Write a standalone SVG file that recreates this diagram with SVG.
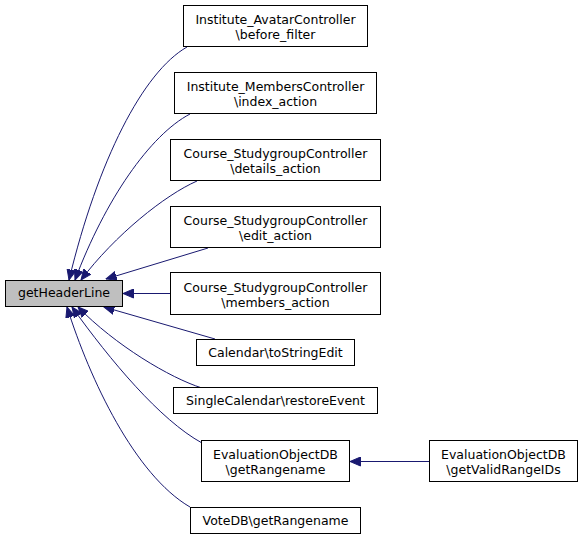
<svg xmlns="http://www.w3.org/2000/svg" width="584" height="539" viewBox="0 0 584 539">
<style>
.n rect{fill:#fff;stroke:#000;stroke-width:1}
.n.cur rect{fill:#bfbfbf}
.n text{font-family:"DejaVu Sans","Liberation Sans",sans-serif;font-size:12.5px;fill:#000;text-anchor:middle}
.e path{fill:none;stroke:#191970;stroke-width:1;marker-end:url(#ah)}
</style>
<defs>
<marker id="ah" markerUnits="userSpaceOnUse" viewBox="0 -5 11 10" refX="10.5" refY="0" markerWidth="11" markerHeight="10" orient="auto">
<path d="M0,-4.5 L10.5,0 L0,4.5 z" fill="#191970" stroke="#191970" stroke-width="1"/>
</marker>
</defs>
<rect width="584" height="539" fill="#fff"/>
<g id="edges" class="e">
<path d="M187,47 C143,72 98,160 69,280"/>
<path d="M190,114 C150,135 105,200 75,280"/>
<path d="M197,181 C165,195 115,235 81,280"/>
<path d="M208,248 L106,279"/>
<path d="M171,293.5 L123,293.5"/>
<path d="M215,339 L104,307"/>
<path d="M202,388 C170,378 115,345 78,307"/>
<path d="M202,443 C160,420 110,360 72,307"/>
<path d="M190,507 C135,475 90,380 67,307"/>
<path d="M429,461.5 L350,461.5"/>
</g>
<g id="getHeaderLine" class="n cur"><rect x="5.5" y="280.5" width="117" height="26"/><text x="64" y="297">getHeaderLine</text></g>
<g id="avatar" class="n"><rect x="183.5" y="5.5" width="184" height="41"/><text x="275.5" y="24">Institute_AvatarController</text><text x="275.5" y="39">\before_filter</text></g>
<g id="members" class="n"><rect x="174.5" y="72.5" width="202" height="41"/><text x="275.5" y="91">Institute_MembersController</text><text x="275.5" y="106">\index_action</text></g>
<g id="details" class="n"><rect x="170.5" y="139.5" width="210" height="41"/><text x="275.5" y="158">Course_StudygroupController</text><text x="275.5" y="173">\details_action</text></g>
<g id="edit" class="n"><rect x="170.5" y="206.5" width="210" height="41"/><text x="275.5" y="225">Course_StudygroupController</text><text x="275.5" y="240">\edit_action</text></g>
<g id="membersaction" class="n"><rect x="170.5" y="272.5" width="210" height="42"/><text x="275.5" y="292">Course_StudygroupController</text><text x="275.5" y="307">\members_action</text></g>
<g id="calendar" class="n"><rect x="196.5" y="339.5" width="158" height="26"/><text x="275.5" y="357">Calendar\toStringEdit</text></g>
<g id="singlecal" class="n"><rect x="173.5" y="387.5" width="204" height="26"/><text x="275.5" y="405">SingleCalendar\restoreEvent</text></g>
<g id="evalrange" class="n"><rect x="201.5" y="440.5" width="148" height="41"/><text x="275.5" y="459">EvaluationObjectDB</text><text x="275.5" y="474">\getRangename</text></g>
<g id="vote" class="n"><rect x="190.5" y="507.5" width="170" height="26"/><text x="275.5" y="525">VoteDB\getRangename</text></g>
<g id="validrange" class="n"><rect x="429.5" y="440.5" width="148" height="41"/><text x="503.5" y="459">EvaluationObjectDB</text><text x="503.5" y="474">\getValidRangeIDs</text></g>
</svg>
